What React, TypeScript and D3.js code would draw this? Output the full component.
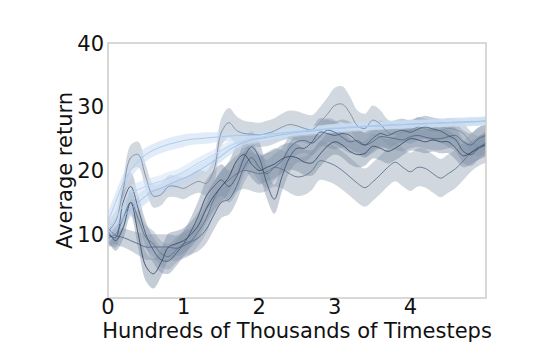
import React, { useEffect, useRef } from "react";
import * as d3 from "d3";

// timesteps (hundreds of thousands), sampled every 0.1
const steps = d3.range(0, 51).map((i) => i / 10);

const seriesNames = ["A", "B", "C", "D", "E", "F", "G", "H"];

const meanA = [12, 15, 18, 20, 21.5, 22.5, 23.2, 23.7, 24.1, 24.4, 24.7, 24.9, 25, 25.1, 25.2, 25.3, 25.4, 25.5, 25.5, 25.5, 25.6, 25.7, 25.8, 25.9, 26, 26.1, 26.2, 26.3, 26.4, 26.5, 26.6, 26.6, 26.7, 26.8, 26.9, 27, 27, 27.1, 27.1, 27.2, 27.2, 27.3, 27.3, 27.4, 27.4, 27.5, 27.5, 27.6, 27.6, 27.7, 27.8];
const meanB = [10.5, 12.5, 14.5, 16.5, 17, 17.5, 18, 18.3, 18.8, 19.2, 19.8, 20.5, 21.2, 21.8, 22.5, 23.2, 23.8, 24.3, 24.7, 25, 25.2, 25.4, 25.6, 25.8, 26, 26.1, 26.2, 26.4, 26.5, 26.6, 26.7, 26.8, 26.8, 26.9, 27, 27, 27.1, 27.1, 27.2, 27.2, 27.3, 27.3, 27.3, 27.4, 27.4, 27.5, 27.5, 27.5, 27.6, 27.6, 27.7];
const meanC = [10, 11, 12.5, 14, 15, 16, 16.8, 17.2, 17.8, 18.3, 18.8, 19.3, 20, 20.7, 21.5, 22.3, 23.2, 23.9, 24.4, 24.8, 25, 25.2, 25.4, 25.6, 25.8, 26, 26.1, 26.2, 26.3, 26.5, 26.6, 26.7, 26.8, 26.8, 26.9, 27, 27, 27.1, 27.2, 27.2, 27.3, 27.3, 27.4, 27.4, 27.5, 27.5, 27.6, 27.6, 27.7, 27.7, 27.8];
const meanD = [10.5, 12, 17, 22, 22.5, 19, 16, 16.2, 17.5, 17.5, 17.2, 17.8, 18.3, 18, 20, 26, 27.5, 26.3, 25.8, 25.7, 25.6, 25.8, 26.2, 26.8, 27.2, 27, 26.6, 26.4, 27.5, 28.8, 30.2, 30.4, 29, 27, 26.6, 27.9, 27.3, 26, 25.7, 26, 26.3, 26.8, 26.5, 26.2, 26.3, 26.6, 26.4, 25.8, 24.5, 23.8, 24.5];
const meanE = [10, 9.5, 15, 17.5, 14, 10, 7.5, 6, 5.8, 7, 8.5, 10.5, 13, 16, 17.5, 18.5, 17.5, 19, 22, 23.7, 22, 18, 15.5, 19, 22, 23.5, 23.5, 24.5, 26, 25.8, 25.5, 25.8, 25.5, 24.5, 24, 25, 25.8, 25.5, 26, 26.3, 26, 26.5, 26.8, 26.5, 26.2, 25.5, 24.8, 23, 22.5, 23.5, 24.3];
const meanF = [10.5, 9, 11, 15, 10, 5, 3.8, 5.5, 8, 8.5, 9, 10, 11.5, 14, 16, 17.5, 19, 21.5, 22.5, 21, 20, 20.5, 21, 21.8, 22.2, 22, 21.3, 21.2, 22.5, 23.8, 24.5, 24, 23, 22.5, 22.7, 23.8, 23.5, 23, 23.5, 24.3, 25, 24.8, 24.5, 24.8, 24.5, 24.5, 23.5, 22.3, 22.8, 23.5, 24];
const meanG = [11, 9.8, 9.5, 9, 8.5, 8, 8, 8, 8, 7.8, 8.2, 8.8, 9.5, 10.8, 13, 15, 15.5, 17.5, 20.5, 22, 20.5, 19.5, 20.5, 21.5, 23.5, 24.5, 24.7, 24.3, 25.3, 26.3, 26, 25.2, 24.5, 24.7, 24, 24.5, 25.3, 25.2, 25, 24.8, 25.3, 25.5, 25.2, 25, 25, 25.3, 25.5, 24.5, 24, 25, 25.5];
const meanH = [9.5, 10, 12.5, 15, 12.5, 9.5, 8.5, 7, 6.5, 7.5, 8.5, 9, 10.5, 12.5, 15.5, 17.5, 18.5, 19.5, 20, 19.8, 19.5, 19.8, 20.5, 20.2, 19.5, 19, 19.2, 20, 21.5, 21.3, 20.8, 20, 19, 18, 17.3, 18.2, 19.3, 20.5, 21.3, 20.5, 19.8, 20.5, 20.3, 19.5, 18.8, 19.5, 20.3, 21.5, 22.8, 23.7, 24.2];

const spreadA = [1.5, 1.5, 1.4, 1.3, 1.2, 1.1, 1, 1, 1, 1, 1, 0.9, 0.9, 0.9, 0.8, 0.8, 0.8, 0.8, 0.7, 0.7, 0.7, 0.7, 0.6, 0.6, 0.6, 0.6, 0.6, 0.6, 0.6, 0.6, 0.6, 0.6, 0.6, 0.6, 0.6, 0.6, 0.6, 0.6, 0.6, 0.6, 0.6, 0.6, 0.6, 0.6, 0.6, 0.6, 0.6, 0.6, 0.6, 0.6, 0.6];
const spreadB = [1.3, 1.3, 1.3, 1.2, 1.2, 1.1, 1, 1, 1, 0.9, 0.9, 0.9, 0.9, 0.9, 0.8, 0.8, 0.8, 0.8, 0.7, 0.7, 0.7, 0.7, 0.7, 0.7, 0.6, 0.6, 0.6, 0.6, 0.6, 0.6, 0.6, 0.6, 0.6, 0.6, 0.6, 0.6, 0.6, 0.6, 0.6, 0.6, 0.6, 0.6, 0.6, 0.6, 0.6, 0.6, 0.6, 0.6, 0.6, 0.6, 0.6];
const spreadC = [1.3, 1.3, 1.3, 1.3, 1.2, 1.2, 1.1, 1, 1, 1, 1, 1, 1, 0.9, 0.9, 0.9, 0.9, 0.8, 0.8, 0.8, 0.7, 0.7, 0.7, 0.7, 0.7, 0.7, 0.7, 0.7, 0.7, 0.7, 0.7, 0.7, 0.7, 0.7, 0.7, 0.7, 0.7, 0.7, 0.7, 0.7, 0.7, 0.7, 0.7, 0.7, 0.7, 0.7, 0.7, 0.7, 0.7, 0.7, 0.7];
const spreadD = [1.5, 1.6, 1.8, 2, 2, 1.9, 1.8, 1.7, 1.7, 1.7, 1.7, 1.7, 1.8, 1.9, 2, 2.2, 2.3, 2.2, 2, 1.9, 1.9, 2, 2, 2.1, 2.2, 2.3, 2.3, 2.3, 2.4, 2.6, 2.8, 2.8, 2.6, 2.4, 2.3, 2.3, 2.2, 2, 1.8, 1.7, 1.6, 1.6, 1.6, 1.6, 1.6, 1.6, 1.6, 1.6, 1.6, 1.6, 1.6];
const spreadE = [1.5, 1.6, 2, 2.2, 2.2, 2, 2, 2, 2, 2, 2, 2.2, 2.4, 2.5, 2.5, 2.5, 2.5, 2.5, 2.5, 2.5, 2.5, 2.4, 2.3, 2.3, 2.3, 2.3, 2.2, 2.2, 2.2, 2.2, 2.2, 2.2, 2.1, 2, 2, 2, 2, 2, 1.9, 1.8, 1.8, 1.8, 1.8, 1.8, 1.8, 1.8, 1.8, 1.8, 1.8, 1.8, 1.8];
const spreadF = [1.5, 1.6, 1.8, 2, 2.2, 2.3, 2.3, 2.2, 2.1, 2, 2, 2, 2.1, 2.2, 2.3, 2.4, 2.4, 2.4, 2.3, 2.2, 2.2, 2.2, 2.2, 2.2, 2.1, 2.1, 2, 2, 2, 2, 2, 2, 2, 2, 1.9, 1.9, 1.9, 1.9, 1.9, 1.9, 1.9, 1.8, 1.8, 1.8, 1.8, 1.8, 1.8, 1.8, 1.8, 1.8, 1.8];
const spreadG = [1.3, 1.4, 1.5, 1.6, 1.8, 2, 2, 2, 2, 2, 2, 2, 2.1, 2.2, 2.3, 2.4, 2.4, 2.4, 2.4, 2.3, 2.2, 2.2, 2.1, 2, 2, 2, 1.9, 1.9, 1.9, 1.9, 1.9, 1.8, 1.8, 1.8, 1.8, 1.8, 1.8, 1.8, 1.8, 1.8, 1.8, 1.8, 1.8, 1.8, 1.8, 1.8, 1.8, 1.8, 1.8, 1.8, 1.8];
const spreadH = [1.5, 1.5, 1.6, 1.7, 1.8, 1.9, 2, 2, 2, 2, 2, 2.1, 2.2, 2.3, 2.5, 2.6, 2.7, 2.8, 2.9, 3, 3, 3, 3, 3, 3, 3, 3, 3, 3, 3, 3, 3, 3, 3, 3, 3, 3, 3, 3, 3, 3, 3, 3, 3, 3, 3, 3, 3, 3, 3, 3];

const lineColors = ["#a9c7e8", "#b7d1ee", "#9dbde2", "#7d8fa6", "#485b74", "#3c4d64", "#55698a", "#62758f"];
const bandColors = ["#c9ddf2", "#d3e4f5", "#c0d6ef", "#9aa8ba", "#8495ab", "#7d8ea5", "#8d9db2", "#a3b0c0"];
const bandOpacity = [0.55, 0.55, 0.55, 0.45, 0.45, 0.45, 0.45, 0.5];

const yTicks = [10, 20, 30, 40];
const xTicks = [0, 1, 2, 3, 4];
const xLabel = "Hundreds of Thousands of Timesteps";
const yLabel = "Average return";

const W = 540, H = 360;
const margin = { top: 43, right: 54, bottom: 62, left: 108 };

export default function App() {
  const ref = useRef<SVGSVGElement>(null);

  useEffect(() => {
    const svg = d3.select(ref.current);
    svg.selectAll("*").remove();

    const means = [meanA, meanB, meanC, meanD, meanE, meanF, meanG, meanH];
    const spreads = [spreadA, spreadB, spreadC, spreadD, spreadE, spreadF, spreadG, spreadH];

    const x = d3.scaleLinear().domain([0, 5]).range([margin.left, W - margin.right]);
    const y = d3.scaleLinear().domain([0, 40]).range([H - margin.bottom, margin.top]);

    const font = "DejaVu Sans, sans-serif";
    const fs = "21px";

    svg.append("defs").append("clipPath").attr("id", "plot")
      .append("rect")
      .attr("x", x(0)).attr("y", y(40))
      .attr("width", x(5) - x(0)).attr("height", y(0) - y(40));

    const plot = svg.append("g").attr("clip-path", "url(#plot)");

    const area = d3.area<number>()
      .x((_, i) => x(steps[i]))
      .curve(d3.curveCatmullRom);
    const line = d3.line<number>()
      .x((_, i) => x(steps[i]))
      .curve(d3.curveCatmullRom);

    // draw dark runs first, light ones on top
    const order = [7, 3, 6, 4, 5, 2, 1, 0];
    order.forEach((k) => {
      const m = means[k], s = spreads[k];
      plot.append("path")
        .datum(m)
        .attr("d", area.y0((d, i) => y(d - s[i])).y1((d, i) => y(d + s[i])))
        .attr("fill", bandColors[k])
        .attr("fill-opacity", bandOpacity[k])
        .attr("stroke", "none");
    });
    order.forEach((k) => {
      plot.append("path")
        .datum(means[k])
        .attr("d", line.y((d) => y(d)))
        .attr("fill", "none")
        .attr("stroke", lineColors[k])
        .attr("stroke-width", 0.9)
        .attr("data-series", seriesNames[k]);
    });

    // frame
    svg.append("rect")
      .attr("x", x(0)).attr("y", y(40))
      .attr("width", x(5) - x(0)).attr("height", y(0) - y(40))
      .attr("fill", "none")
      .attr("stroke", "#cccccc")
      .attr("stroke-width", 1.5);

    // y tick labels
    svg.append("g").selectAll("text")
      .data(yTicks)
      .join("text")
      .attr("x", x(0) - 4)
      .attr("y", (d) => y(d))
      .attr("dy", "0.36em")
      .attr("text-anchor", "end")
      .style("font-family", font)
      .style("font-size", fs)
      .attr("fill", "#111")
      .text((d) => d);

    // x ticks + labels
    const xg = svg.append("g");
    xg.selectAll("line")
      .data(xTicks)
      .join("line")
      .attr("x1", (d) => x(d)).attr("x2", (d) => x(d))
      .attr("y1", y(0)).attr("y2", y(0) + 3)
      .attr("stroke", "#cccccc");
    xg.selectAll("text")
      .data(xTicks)
      .join("text")
      .attr("x", (d) => x(d))
      .attr("y", y(0) + 16)
      .attr("text-anchor", "middle")
      .style("font-family", font)
      .style("font-size", fs)
      .attr("fill", "#111")
      .text((d) => d);

    svg.append("text")
      .attr("x", (x(0) + x(5)) / 2)
      .attr("y", y(0) + 40)
      .attr("text-anchor", "middle")
      .style("font-family", font)
      .style("font-size", fs)
      .attr("fill", "#111")
      .text(xLabel);

    svg.append("text")
      .attr("transform", `translate(72,${(y(0) + y(40)) / 2}) rotate(-90)`)
      .attr("text-anchor", "middle")
      .style("font-family", font)
      .style("font-size", fs)
      .attr("fill", "#111")
      .text(yLabel);
  }, []);

  return (
    <svg
      ref={ref}
      width={W}
      height={H}
      style={{ position: "absolute", left: 0, top: 0, background: "#fff" }}
    />
  );
}
